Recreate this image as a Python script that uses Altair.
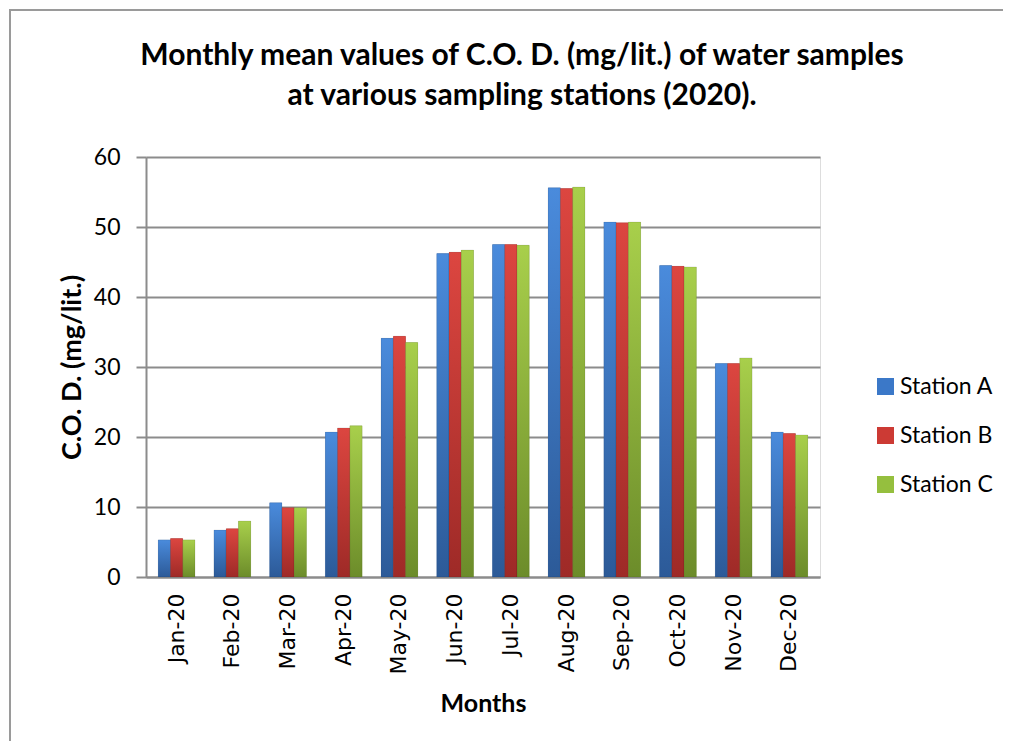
import altair as alt
import pandas as pd

months = ["Jan-20", "Feb-20", "Mar-20", "Apr-20", "May-20", "Jun-20",
          "Jul-20", "Aug-20", "Sep-20", "Oct-20", "Nov-20", "Dec-20"]
stations = ["Station A", "Station B", "Station C"]
station_a = [5.3, 6.7, 10.6, 20.7, 34.1, 46.2, 47.5, 55.6, 50.7, 44.5, 30.5, 20.7]
station_b = [5.5, 6.9, 9.9, 21.3, 34.4, 46.4, 47.5, 55.5, 50.6, 44.4, 30.5, 20.5]
station_c = [5.3, 8.0, 9.9, 21.6, 33.5, 46.7, 47.4, 55.7, 50.7, 44.3, 31.3, 20.3]

colors = ["#3b78c8", "#cc3a34", "#95bf3e"]
grads = [("#4a8bdc", "#2c5a98"), ("#dc4640", "#9e2a27"), ("#a8cf4b", "#6c8c2a")]

rows = []
for s, vals in zip(stations, [station_a, station_b, station_c]):
    for m, v in zip(months, vals):
        rows.append({"month": m, "station": s, "value": v})
df = pd.DataFrame(rows)

FONT = "Lato"
LFONT = "DejaVu Sans"
GRAY = "#8c8c8c"

x_enc = alt.X("month:N", sort=months,
              scale=alt.Scale(paddingInner=0.34, paddingOuter=0.22),
              axis=alt.Axis(title="Months", labelAngle=-90, labelFont=LFONT,
                            labelFontSize=22, labelColor="black", labelPadding=16,
                            ticks=False, domainColor=GRAY, domainWidth=2,
                            titleFont=FONT, titleFontSize=25, titleFontWeight="bold",
                            titleColor="black", titlePadding=17))
xo_enc = alt.XOffset("station:N", scale=alt.Scale(domain=stations, paddingInner=0, paddingOuter=0))
y_enc = alt.Y("value:Q", scale=alt.Scale(domain=[0, 60]),
              axis=alt.Axis(title="C.O. D. (mg/lit.)", values=[0, 10, 20, 30, 40, 50, 60],
                            labelFont=FONT, labelFontSize=23, labelColor="black",
                            labelPadding=16, tickColor=GRAY, tickWidth=2, tickSize=10,
                            domainColor=GRAY, domainWidth=2,
                            gridColor=GRAY, gridWidth=2,
                            titleFont=FONT, titleFontSize=27, titleFontWeight="bold",
                            titleColor="black", titlePadding=7))

base = alt.Chart(df).mark_bar().encode(
    x=x_enc, xOffset=xo_enc, y=y_enc,
    color=alt.Color("station:N", scale=alt.Scale(domain=stations, range=colors),
                    legend=alt.Legend(title=None, orient="none", legendX=728, legendY=218,
                                      symbolType="square", symbolSize=289,
                                      symbolStrokeWidth=0, labelFont=FONT,
                                      labelFontSize=23, labelColor="black",
                                      labelOffset=3, rowPadding=25, symbolOffset=0)),
)

layers = [base]
for s, (top, bot) in zip(stations, grads):
    layers.append(
        alt.Chart(df).transform_filter(alt.datum.station == s).mark_bar(
            color=alt.Gradient(gradient="linear", x1=0, x2=0, y1=0, y2=1,
                               stops=[alt.GradientStop(color=top, offset=0),
                                      alt.GradientStop(color=bot, offset=1)]),
            stroke="#00000033", strokeWidth=0.5,
        ).encode(x=alt.X("month:N", sort=months), xOffset="station:N", y="value:Q")
    )

border = alt.Chart(df).mark_rect(fill=None, stroke="#9a9a9a", strokeWidth=2).encode(
    x=alt.value(-136), x2=alt.value(858), y=alt.value(-147), y2=alt.value(620))

chart = alt.layer(border, *layers).properties(
    width=674, height=420,
    title=alt.Title(["Monthly mean values of C.O. D. (mg/lit.) of water samples",
                     "at various sampling stations (2020)."],
                    font=FONT, fontSize=30, fontWeight="bold", color="black",
                    anchor="middle", dx=39, offset=-102, lineHeight=40),
    autosize=alt.AutoSizeParams(type="none"),
    padding={"left": 138, "top": 149, "right": 183, "bottom": 164},
).configure_view(stroke=None).configure(background="white")

chart.save("out.html", embed_options={"renderer": "svg", "actions": False})
